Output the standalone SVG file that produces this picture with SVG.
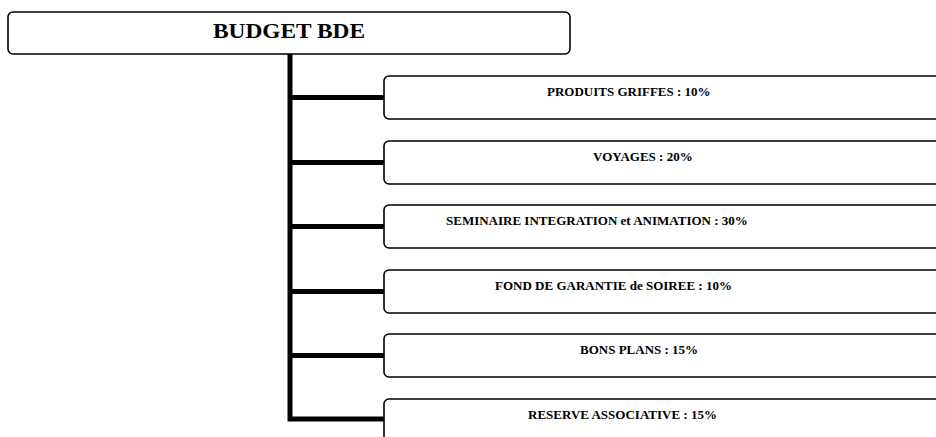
<svg xmlns="http://www.w3.org/2000/svg" width="936" height="437" viewBox="0 0 936 437">
<style>
.box{fill:#fff;stroke:#000;stroke-width:1.6}
.conn{stroke:#000;stroke-width:5;fill:none;stroke-linecap:butt;stroke-linejoin:miter}
.t{font-family:"Liberation Serif","Times New Roman",serif;font-weight:bold;font-size:13px;fill:#000}
.title{font-family:"Liberation Serif","Times New Roman",serif;font-weight:bold;font-size:21px;fill:#000}
</style>
<rect width="936" height="437" fill="#fff"/>
<g id="connectors">
<path class="conn" d="M290,54 V419 H384"/>
<path class="conn" d="M290,97.5 H384 M290,162.5 H384 M290,226.5 H384 M290,291.5 H384 M290,355.5 H384"/>
</g>
<g id="root">
<rect class="box" x="8" y="12" width="562" height="42" rx="5"/>
<text class="title" x="289" y="38" text-anchor="middle" textLength="152" lengthAdjust="spacingAndGlyphs">BUDGET BDE</text>
</g>
<g id="n1">
<rect class="box" x="384" y="76" width="570" height="43" rx="5"/>
<text class="t" x="547" y="96">PRODUITS GRIFFES : 10%</text>
</g>
<g id="n2">
<rect class="box" x="384" y="141" width="570" height="43" rx="5"/>
<text class="t" x="593" y="161">VOYAGES : 20%</text>
</g>
<g id="n3">
<rect class="box" x="384" y="205" width="570" height="43" rx="5"/>
<text class="t" x="446" y="225">SEMINAIRE INTEGRATION et ANIMATION : 30%</text>
</g>
<g id="n4">
<rect class="box" x="384" y="270" width="570" height="43" rx="5"/>
<text class="t" x="495" y="290">FOND DE GARANTIE de SOIREE : 10%</text>
</g>
<g id="n5">
<rect class="box" x="384" y="334" width="570" height="43" rx="5"/>
<text class="t" x="580" y="354">BONS PLANS : 15%</text>
</g>
<g id="n6">
<rect class="box" x="384" y="399" width="570" height="50" rx="5"/>
<text class="t" x="528" y="419">RESERVE ASSOCIATIVE : 15%</text>
</g>
</svg>
